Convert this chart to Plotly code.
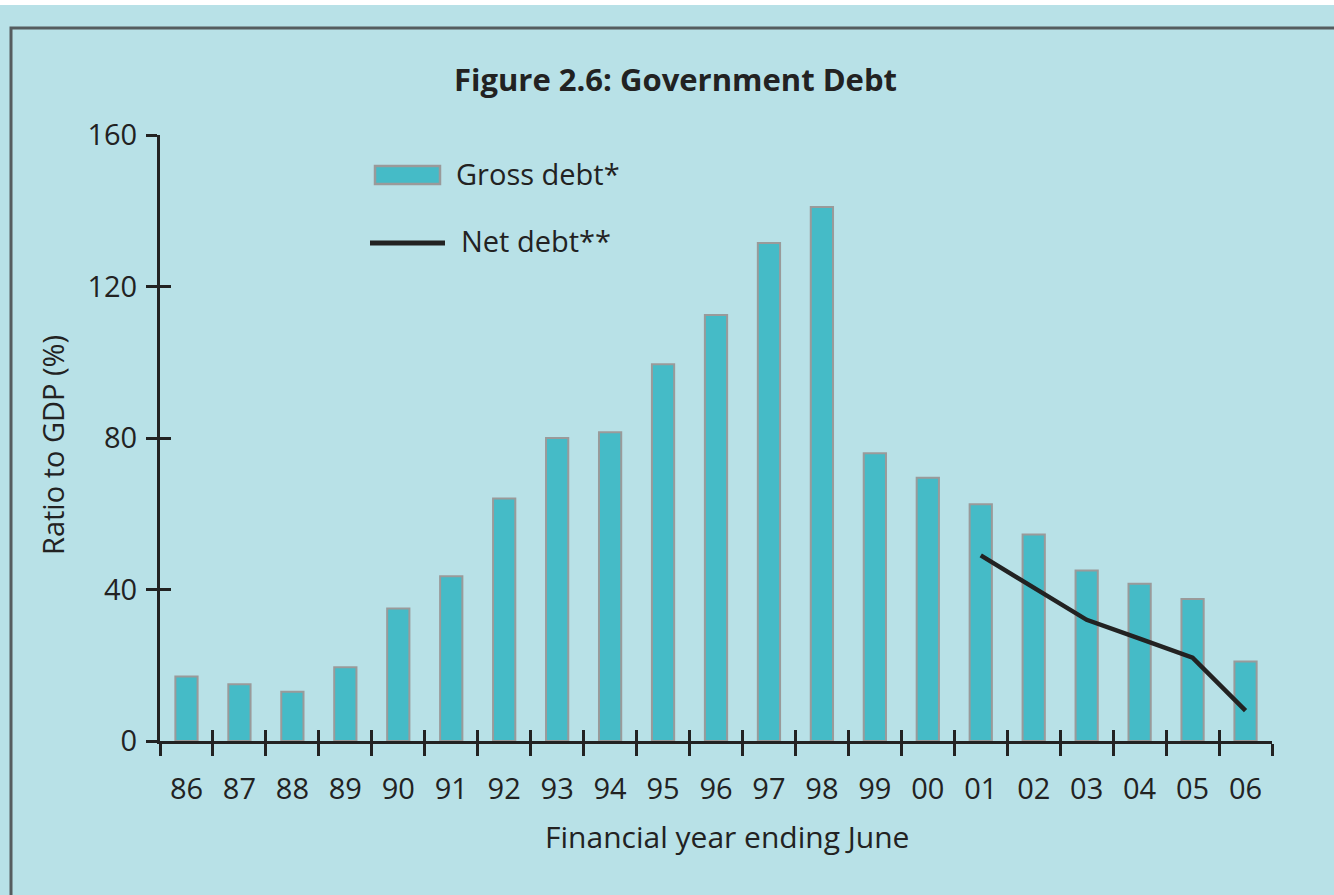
import plotly.graph_objects as go

# Financial years ending June (two-digit labels)
years = ["86", "87", "88", "89", "90", "91", "92", "93", "94", "95", "96",
         "97", "98", "99", "00", "01", "02", "03", "04", "05", "06"]

# Gross debt, % of GDP
gross_debt = [17, 15, 13, 19.5, 35, 43.5, 64, 80, 81.5, 99.5, 112.5,
              131.5, 141, 76, 69.5, 62.5, 54.5, 45, 41.5, 37.5, 21]

# Net debt, % of GDP (available from 2001)
net_years = ["01", "02", "03", "04", "05", "06"]
net_debt = [49, 40.5, 32, 27, 22, 8]

y_ticks = [0, 40, 80, 120, 160]

BG = "#b8e1e7"
BAR = "#45bbc7"
EDGE = "#9a9a9a"
INK = "#222222"
FONT = "Open Sans"

W, H = 1334, 895
L, R, T, B = 160, 62, 135, 154
PW, PH = W - L - R, H - T - B


def px(x):
    return (x - L) / PW


def py(y):
    return (H - B - y) / PH


fig = go.Figure()

fig.add_trace(go.Bar(
    x=years, y=gross_debt, name="Gross debt*",
    marker=dict(color=BAR, line=dict(color=EDGE, width=2)),
    width=0.42, showlegend=False,
))
fig.add_trace(go.Scatter(
    x=net_years, y=net_debt, name="Net debt**", mode="lines",
    line=dict(color=INK, width=4.5), showlegend=False,
))

axis_font = dict(family=FONT, size=29, color=INK)

fig.update_layout(
    width=W, height=H,
    margin=dict(l=L, r=R, t=T, b=B),
    paper_bgcolor=BG, plot_bgcolor=BG,
    font=dict(family=FONT, color=INK),
    bargap=0.5,
    xaxis=dict(
        type="category", categoryarray=years, range=[-0.5, 20.5],
        showline=True, linecolor=INK, linewidth=3,
        ticks="outside", tickson="boundaries", ticklen=12, tickwidth=3,
        tickcolor=INK, tickfont=axis_font, ticklabelstandoff=20,
        showgrid=False, zeroline=False,
    ),
    xaxis2=dict(
        type="category", categoryarray=years, range=[-0.5, 20.5],
        overlaying="x", anchor="y", side="bottom",
        ticks="inside", tickson="boundaries", ticklen=11, tickwidth=3,
        tickcolor=INK, showticklabels=False, showgrid=False,
        zeroline=False, showline=False,
    ),
    yaxis=dict(
        range=[0, 160], tickvals=y_ticks,
        showline=True, linecolor=INK, linewidth=3,
        ticks="outside", ticklen=11, tickwidth=3, tickcolor=INK,
        tickfont=axis_font, ticklabelstandoff=3,
        showgrid=False, zeroline=False,
    ),
    yaxis2=dict(
        range=[0, 160], tickvals=y_ticks, overlaying="y", anchor="x",
        side="left", ticks="inside", ticklen=11, tickwidth=3,
        tickcolor=INK, showticklabels=False, showgrid=False,
        zeroline=False, showline=False,
    ),
)

# Invisible trace so the overlay axes are drawn
fig.add_trace(go.Scatter(x=years, y=[None] * len(years), xaxis="x2",
                         yaxis="y2", showlegend=False, hoverinfo="skip"))

shapes = [
    # white strip above the panel
    dict(type="rect", xref="paper", yref="paper",
         x0=px(-5), x1=px(W + 5), y0=py(5), y1=py(-5),
         fillcolor="white", line=dict(width=0), layer="below"),
    # panel frame
    dict(type="rect", xref="paper", yref="paper",
         x0=px(11), x1=px(W + 20), y0=py(H + 20), y1=py(28),
         fillcolor="rgba(0,0,0,0)", line=dict(color="#555c5f", width=3)),
    # legend swatches
    dict(type="rect", xref="paper", yref="paper",
         x0=px(375), x1=px(440), y0=py(184), y1=py(166),
         fillcolor=BAR, line=dict(color=EDGE, width=2.5)),
    dict(type="line", xref="paper", yref="paper",
         x0=px(370), x1=px(445), y0=py(243), y1=py(243),
         line=dict(color=INK, width=5)),
]

annotations = [
    dict(text="<b>Figure 2.6: Government Debt</b>", xref="paper", yref="paper",
         x=px(675), y=py(79), showarrow=False, xanchor="center",
         yanchor="middle", font=dict(family=FONT, size=31, color=INK)),
    dict(text="Gross debt*", xref="paper", yref="paper",
         x=px(454), y=py(173), showarrow=False, xanchor="left",
         yanchor="middle", font=axis_font),
    dict(text="Net debt**", xref="paper", yref="paper",
         x=px(459), y=py(240), showarrow=False, xanchor="left",
         yanchor="middle", font=axis_font),
    dict(text="Financial year ending June", xref="paper", yref="paper",
         x=px(727), y=py(836), showarrow=False, xanchor="center",
         yanchor="middle", font=dict(family=FONT, size=30, color=INK)),
    dict(text="Ratio to GDP (%)", xref="paper", yref="paper",
         x=px(52), y=py(445), showarrow=False, textangle=-90,
         xanchor="center", yanchor="middle", font=axis_font),
]

fig.update_layout(shapes=shapes, annotations=annotations)

fig.write_html("out.html")
